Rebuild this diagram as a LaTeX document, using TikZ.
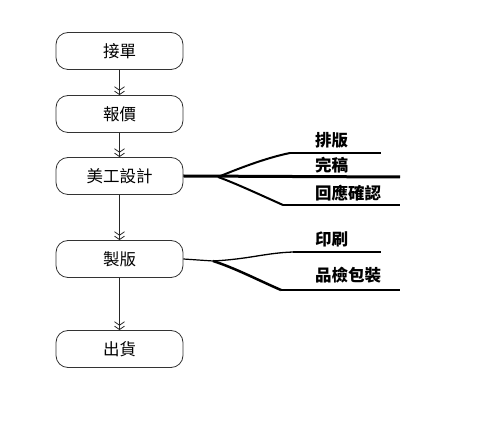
\documentclass[tikz,border=0pt]{standalone}
\usepackage{fontspec}
\setmainfont{Noto Sans CJK TC}
\usetikzlibrary{arrows.meta}
\begin{document}
\begin{tikzpicture}[x=1pt,y=-1pt,
  stepbox/.style={draw=black!80,line width=0.8pt,rounded corners=12pt,minimum width=127pt,minimum height=37pt,inner sep=0pt,font=\fontsize{16.5}{19}\selectfont},
  flow/.style={draw=black!85,line width=0.8pt,-{Straight Barb[length=3.5pt,width=10pt] Straight Barb[length=3.5pt,width=10pt]}},
  lab/.style={anchor=south west,inner sep=0pt,font=\fontsize{16.5}{19}\selectfont\bfseries}]
\useasboundingbox (0,0) rectangle (493,443);
\node[stepbox] (n1) at (119.5,51) {接單};
\node[stepbox] (n2) at (119.5,114) {報價};
\node[stepbox] (n3) at (119.5,176) {美工設計};
\node[stepbox] (n4) at (119.5,259) {製版};
\node[stepbox] (n5) at (119.5,349) {出貨};
\draw[flow] (n1) -- (n2);
\draw[flow] (n2) -- (n3);
\draw[flow] (n3) -- (n4);
\draw[flow] (n4) -- (n5);
% group 1
\coordinate (a0) at (218,177);
\coordinate (a1) at (290,153);
\coordinate (a1e) at (381,153);
\coordinate (a2e) at (400,177);
\coordinate (a3) at (283,205);
\coordinate (a3e) at (400,205);
\draw[line width=3pt] (n3.east) -- (a2e);
\draw[line width=2pt] (a0) .. controls (235,170) and (265,158) .. (a1);
\draw[line width=1.5pt] (a1) -- (a1e);
\draw[line width=2pt] (a0) .. controls (235,183) and (265,197) .. (a3);
\draw[line width=1.2pt] (a3) -- (a3e);
\node[lab] (l1) at (315,148) {排版};
\node[lab] (l2) at (315,173) {完稿};
\node[lab] (l3) at (315,201) {回應確認};
% group 2
\coordinate (b0) at (213,261);
\coordinate (b1) at (293,252);
\coordinate (b1e) at (381,252);
\coordinate (b3) at (281,290);
\coordinate (b3e) at (400,290);
\draw[line width=1.2pt] (n4.east) -- (b0);
\draw[line width=1.3pt] (b0) .. controls (250,259) and (265,253) .. (b1);
\draw[line width=1.3pt] (b1) -- (b1e);
\draw[line width=2.5pt] (b0) .. controls (235,268) and (260,281) .. (b3);
\draw[line width=1.5pt] (b3) -- (b3e);
\node[lab] (l4) at (315,247) {印刷};
\node[lab] (l5) at (315,283) {品檢包裝};
\end{tikzpicture}
\end{document}
